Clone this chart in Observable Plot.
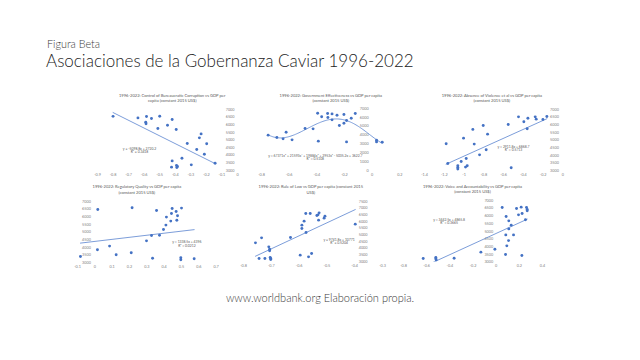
<!DOCTYPE html>
<html><head><meta charset="utf-8">
<script src="https://cdn.jsdelivr.net/npm/d3@7"></script>
<script src="https://cdn.jsdelivr.net/npm/@observablehq/plot@0.6"></script>
<style>
html,body{margin:0;padding:0;background:#fff;}
#slide{position:relative;width:640px;height:360px;overflow:hidden;font-family:Lato,"Open Sans",sans-serif;background:#fff;}
.abs{position:absolute;white-space:nowrap;}
#kicker{left:47px;top:37px;font-size:10.8px;color:#3a3a3a;font-weight:300;}
#title{left:46px;top:50px;font-size:17px;color:#222;font-weight:300;}
#footer{left:0;width:640px;text-align:center;top:291px;font-size:11px;color:#3a3a3a;font-weight:300;}
</style></head><body>
<div id="slide">
  <div id="kicker" class="abs">Figura Beta</div>
  <div id="title" class="abs">Asociaciones de la Gobernanza Caviar 1996-2022</div>
  <div id="footer" class="abs">www.worldbank.org Elaboración propia.</div>
</div>
<script>
// ---------- DATA ----------
const p1Title = ["1996-2022: Control of Bureaucratic Corruption vs GDP per", "capita (constant 2015 US$)"];
const p1X = [-0.80,-0.64,-0.585,-0.59,-0.588,-0.553,-0.50,-0.512,-0.45,-0.42,-0.394,-0.323,-0.262,-0.245,-0.234,-0.198,-0.213,-0.144,-0.357,-0.42,-0.424,-0.392,-0.39,-0.386,-0.297];
const p1Y = [6550,6450,6540,6170,6060,6410,6560,5750,5970,6340,5690,4770,4380,5140,5400,4750,4070,3480,3800,3630,3220,3330,3200,3260,3370];
const p1XTicks = [-0.9,-0.8,-0.7,-0.6,-0.5,-0.4,-0.3,-0.2,-0.1,0];
const p1YTicks = [3000,3500,4000,4500,5000,5500,6000,6500,7000];
const p1Trend = [-5098.8, 2720.2];
const p1Eq = ["y = -5098.8x + 2720.2", "R² = 0.3418"];

const p2Title = ["1996-2022: Government Effectiveness vs GDP per capita", "(constant 2015 US$)"];
const p2X = [-0.752,-0.689,-0.644,-0.622,-0.579,-0.485,-0.427,-0.389,-0.394,-0.365,-0.322,-0.320,-0.29,-0.29,-0.254,-0.237,-0.204,-0.204,-0.185,-0.185,-0.151,-0.122,0.032,0.032,0.073];
const p2Y = [3990,3720,3570,4320,3460,4740,4700,3310,6470,6060,6430,5980,6390,5720,6240,5080,6320,5340,5640,3230,5900,6430,3230,3420,3200];
const p2XTicks = [-0.8,-0.6,-0.4,-0.2,0,0.2];
const p2YTicks = [0,1000,2000,3000,4000,5000,6000,7000];
const p2Degree = 5;
const p2Eq = ["y = 67371x⁵ + 21593x⁴ + 19884x³ + 2953x² - 5035.2x + 3622.7", "R² = 0.5108"];

const p3Title = ["1996-2022: Absence of Violence et al vs GDP per capita", "(constant 2015 US$)"];
const p3X = [-1.181,-1.164,-1.063,-1.063,-1.063,-1.029,-1.005,-0.985,-0.978,-0.968,-0.911,-0.897,-0.843,-0.806,-0.776,-0.762,-0.553,-0.523,-0.449,-0.395,-0.354,-0.361,-0.28,-0.27,-0.202,-0.162];
const p3Y = [4760,3480,3330,3220,3120,3610,5130,3240,3800,3330,5700,4740,4040,5960,4370,5390,6020,3200,6520,6200,6430,5740,6520,6370,6350,6540];
const p3XTicks = [-1.4,-1.2,-1,-0.8,-0.6,-0.4,-0.2,0];
const p3YTicks = [3000,3500,4000,4500,5000,5500,6000,6500,7000];
const p3Trend = [2911.8, 6868.7];
const p3Eq = ["y = 2911.8x + 6868.7", "R² = 0.5713"];

const p4Title = ["1996-2022: Regulatory Quality vs GDP per capita", "(constant 2015 US$)"];
const p4X = [-0.083,0.015,0.017,0.085,0.123,0.21,0.215,0.298,0.327,0.333,0.356,0.373,0.396,0.41,0.413,0.438,0.442,0.446,0.469,0.473,0.477,0.496,0.496,0.50,0.573];
const p4Y = [3410,3850,6480,4090,3520,3650,6590,4430,4780,3300,6410,4800,5170,5460,5980,5720,6220,6540,6350,5780,6070,3330,3200,6570,3260];
const p4XTicks = [-0.1,0,0.1,0.2,0.3,0.4,0.5,0.6,0.7];
const p4YTicks = [3000,3500,4000,4500,5000,5500,6000,6500,7000];
const p4Trend = [1338.5, 4396];
const p4Eq = ["y = 1338.5x + 4396", "R² = 0.0212"];

const p5Title = ["1996-2022: Rule of Law vs GDP per capita (constant 2015", "US$)"];
const p5X = [-0.757,-0.744,-0.735,-0.723,-0.709,-0.706,-0.706,-0.704,-0.702,-0.702,-0.631,-0.596,-0.59,-0.59,-0.582,-0.576,-0.575,-0.566,-0.56,-0.555,-0.536,-0.532,-0.53,-0.528,-0.51,-0.507,-0.398];
const p5Y = [4400,3225,4775,3225,4100,3925,3800,3300,3225,3150,4800,3475,5475,5725,6025,6600,5175,3350,6600,3600,6450,6500,6100,6650,6250,6400,5800];
const p5XTicks = [-0.8,-0.7,-0.6,-0.5,-0.4,-0.3];
const p5YTicks = [3000,3500,4000,4500,5000,5500,6000,6500,7000,7500];
const p5Trend = [9741.8, 10771];
const p5Eq = ["y = 9741.8x + 10771", "R² = 0.5204"];

const p6Title = ["1996-2022: Voice and Accountability vs GDP per capita", "(constant 2015 US$)"];
const p6X = [-0.63,-0.521,-0.521,-0.518,-0.363,-0.132,-0.011,0.052,0.081,0.092,0.086,0.083,0.107,0.109,0.109,0.13,0.15,0.176,0.193,0.216,0.224,0.222,0.253,0.262,0.268,0.268];
const p6Y = [3240,3300,3220,3150,3260,3650,3840,6550,3500,4060,5960,4770,4400,5680,5160,5400,4770,6480,6070,6570,6160,3430,5750,6550,6420,6330];
const p6XTicks = [-0.8,-0.6,-0.4,-0.2,0,0.2,0.4];
const p6YTicks = [3000,3500,4000,4500,5000,5500,6000,6500,7000];
const p6Trend = [3442.5, 4865.8];
const p6Eq = ["y = 3442.5x + 4865.8", "R² = 0.3665"];

// ---------- HELPERS ----------
const BLUE = "#4472C4";
const FONT = "Lato, 'Open Sans', sans-serif";
const fmtX = d => (+(+d).toFixed(1)).toString();

function polyfit(xs, ys, deg) {
  const n = deg + 1;
  const A = Array.from({length: n}, () => new Array(n + 1).fill(0));
  xs.forEach((x, k) => {
    for (let i = 0; i < n; i++) {
      for (let j = 0; j < n; j++) A[i][j] += Math.pow(x, i + j);
      A[i][n] += ys[k] * Math.pow(x, i);
    }
  });
  for (let c = 0; c < n; c++) {
    let p = c;
    for (let r = c + 1; r < n; r++) if (Math.abs(A[r][c]) > Math.abs(A[p][c])) p = r;
    [A[c], A[p]] = [A[p], A[c]];
    for (let r = 0; r < n; r++) {
      if (r === c) continue;
      const f = A[r][c] / A[c][c];
      for (let k = c; k <= n; k++) A[r][k] -= f * A[c][k];
    }
  }
  return A.map((row, i) => row[n] / row[i]);
}

function panel(cfg) {
  const L = cfg.fx0 - cfg.padL, T = cfg.fy0 - cfg.padT;
  const W = cfg.fx1 + cfg.padR - L, H = cfg.fy1 + cfg.padB - T;
  const pts = cfg.xs.map((x, i) => ({x, y: cfg.ys[i]}));
  const [xmin, xmax] = d3.extent(cfg.xs);
  let trend;
  if (cfg.coef) {
    trend = [xmin, xmax].map(x => ({x, y: cfg.coef[0] * x + cfg.coef[1]}));
  } else {
    const c = polyfit(cfg.xs, cfg.ys, cfg.degree);
    trend = d3.range(0, 101).map(i => {
      const x = xmin + (xmax - xmin) * i / 100;
      return {x, y: c.reduce((s, a, k) => s + a * Math.pow(x, k), 0)};
    });
  }
  const fcx = (cfg.fx0 + cfg.fx1) / 2;
  const marks = [
    Plot.axisX({ticks: cfg.xTicks, tickSize: 0, tickPadding: 2.6, tickFormat: fmtX, label: null, fill: "#808080"}),
    Plot.text(cfg.yTicks, {x: () => cfg.yAxisAt, y: d => d, text: d => String(d), textAnchor: "end", dx: cfg.ydx, fill: "#808080"}),
    Plot.line(trend, {x: "x", y: "y", stroke: "#5B84CF", strokeWidth: 0.8, clip: true}),
    Plot.dot(pts, {x: "x", y: "y", r: 1.45, fill: BLUE, stroke: "none"}),
    ...cfg.title.map((t, i) => Plot.text([t], {text: d => d, frameAnchor: "top", dx: cfg.tx - fcx, dy: cfg.ty[i] - cfg.fy0, fontSize: 4.1, fill: "#595959", lineAnchor: "middle"})),
    ...cfg.eq.map((t, i) => Plot.text([t], {text: d => d, frameAnchor: "top-left", textAnchor: "middle", dx: cfg.ex - cfg.fx0, dy: cfg.ey[i] - cfg.fy0, fontSize: 3.4, fill: "#595959", lineAnchor: "middle"}))
  ];
  const svg = Plot.plot({
    width: W, height: H,
    marginLeft: cfg.padL, marginRight: cfg.padR, marginTop: cfg.padT, marginBottom: cfg.padB,
    x: {domain: cfg.xDomain},
    y: {domain: cfg.yDomain, axis: null},
    style: {fontFamily: FONT, fontSize: "3.8px", background: "transparent", overflow: "visible"},
    marks
  });
  Object.assign(svg.style, {position: "absolute", left: L + "px", top: T + "px", overflow: "visible"});
  document.getElementById("slide").appendChild(svg);
}

const common = {padL: 16, padR: 16, padT: 24, padB: 10};

panel({...common, fx0: 97, fx1: 237, fy0: 109, fy1: 170, xDomain: [-0.9, 0], yDomain: [3000, 7000],
  xs: p1X, ys: p1Y, xTicks: p1XTicks, yTicks: p1YTicks, yAxisAt: 0, ydx: -3, coef: p1Trend,
  title: p1Title, tx: 171.7, ty: [95, 100.2], eq: p1Eq, ex: 139, ey: [148.3, 151.6]});

panel({...common, fx0: 260.7, fx1: 399, fy0: 108.3, fy1: 170.3, xDomain: [-0.8, 0.2], yDomain: [0, 7000],
  xs: p2X, ys: p2Y, xTicks: p2XTicks, yTicks: p2YTicks, yAxisAt: 0, ydx: -3.5, degree: p2Degree,
  title: p2Title, tx: 330, ty: [95, 100.2], eq: p2Eq, ex: 314.5, ey: [155.8, 158.8]});

panel({...common, fx0: 424.3, fx1: 562.7, fy0: 108.7, fy1: 170, xDomain: [-1.4, 0], yDomain: [3000, 7000],
  xs: p3X, ys: p3Y, xTicks: p3XTicks, yTicks: p3YTicks, yAxisAt: 0, ydx: -4, coef: p3Trend,
  title: p3Title, tx: 491.7, ty: [95, 100.2], eq: p3Eq, ex: 513.3, ey: [145.7, 149]});

panel({...common, fx0: 77.3, fx1: 216, fy0: 200.7, fy1: 262, xDomain: [-0.1, 0.7], yDomain: [3000, 7000],
  xs: p4X, ys: p4Y, xTicks: p4XTicks, yTicks: p4YTicks, yAxisAt: 0, ydx: -4, coef: p4Trend,
  title: p4Title, tx: 136.7, ty: [186.3, 191.5], eq: p4Eq, ex: 186.7, ey: [241.5, 244.8]});

panel({...common, fx0: 242.7, fx1: 381.7, fy0: 201.3, fy1: 261.3, xDomain: [-0.8, -0.3], yDomain: [3000, 7500],
  xs: p5X, ys: p5Y, xTicks: p5XTicks, yTicks: p5YTicks, yAxisAt: -0.3, ydx: -15, coef: p5Trend,
  title: p5Title, tx: 310, ty: [186.3, 192], eq: p5Eq, ex: 338.3, ey: [239.7, 243]});

panel({...common, fx0: 402.7, fx1: 541.7, fy0: 200.3, fy1: 262, xDomain: [-0.8, 0.4], yDomain: [3000, 7000],
  xs: p6X, ys: p6Y, xTicks: p6XTicks, yTicks: p6YTicks, yAxisAt: 0, ydx: -3, coef: p6Trend,
  title: p6Title, tx: 471.7, ty: [186.3, 191.5], eq: p6Eq, ex: 448.3, ey: [219.7, 223]});
</script>
</body></html>
